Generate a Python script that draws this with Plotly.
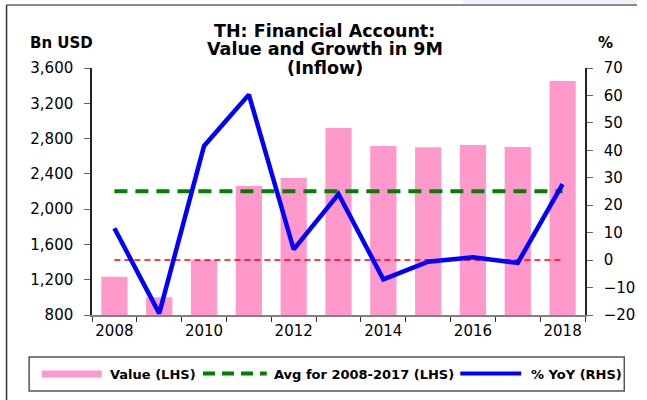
import plotly.graph_objects as go

years = [2008, 2009, 2010, 2011, 2012, 2013, 2014, 2015, 2016, 2017, 2018]
value_bn_usd = [1234, 1000, 1423, 2262, 2353, 2920, 2716, 2701, 2727, 2705, 3453]
yoy_pct = [11.6, -19.4, 41.6, 60.3, 3.9, 24.1, -7.0, -0.6, 1.0, -1.0, 27.7]
avg_years = [y for y in years if y <= 2017]
avg_value = sum(v for y, v in zip(years, value_bn_usd) if y <= 2017) / len(avg_years)
x_tick_labels = [2008, 2010, 2012, 2014, 2016, 2018]
title_lines = ["TH: Financial Account:", "Value and Growth in 9M", "(Inflow)"]
legend_labels = ["Value (LHS)", "Avg for 2008-2017 (LHS)", "% YoY (RHS)"]

W, H = 647, 400
L, R, T, B = 92, 594, 68, 315
FONT = "DejaVu Sans"
PINK = "#FF99CC"
GREEN = "#008000"
BLUE = "#0000FF"


def px(x):
    return (x - L) / (R - L)


def py(y):
    return (B - y) / (B - T)


fig = go.Figure()
fig.add_trace(go.Bar(x=years, y=value_bn_usd, marker=dict(color=PINK, line=dict(width=0)),
                     width=0.585, name=legend_labels[0], showlegend=False))
fig.add_trace(go.Scatter(x=[years[0], years[-1]], y=[avg_value, avg_value], mode="lines",
                         line=dict(color=GREEN, width=4, dash="13px,8px"), name=legend_labels[1],
                         showlegend=False))
fig.add_trace(go.Scatter(x=[years[0], years[-1]], y=[0, 0], yaxis="y2", mode="lines",
                         line=dict(color="#FF0000", width=1.5, dash="6px,4px"), showlegend=False,
                         hoverinfo="skip"))
fig.add_trace(go.Scatter(x=years, y=yoy_pct, yaxis="y2", mode="lines",
                         line=dict(color=BLUE, width=4.5), name=legend_labels[2], showlegend=False))

shapes = []
annotations = []
# outer frame
shapes.append(dict(type="rect", xref="paper", yref="paper", x0=px(470), x1=px(W), y0=py(0), y1=py(4.5),
                   line=dict(width=0), fillcolor="#eef1fa", layer="below"))
shapes.append(dict(type="line", xref="paper", yref="paper", x0=px(5), x1=px(W), y0=py(5), y1=py(5),
                   line=dict(color="#8a8a8a", width=2)))
shapes.append(dict(type="line", xref="paper", yref="paper", x0=px(5), x1=px(5), y0=py(5), y1=py(H),
                   line=dict(color="#333333", width=1.5)))
# legend box
shapes.append(dict(type="rect", xref="paper", yref="paper", x0=px(28), x1=px(634), y0=py(391), y1=py(357),
                   line=dict(color="#555555", width=1.5), fillcolor="white"))
shapes.append(dict(type="line", xref="paper", yref="paper", x0=px(41), x1=px(102), y0=py(374), y1=py(374),
                   line=dict(color=PINK, width=7)))
shapes.append(dict(type="line", xref="paper", yref="paper", x0=px(205), x1=px(270), y0=py(373.5), y1=py(373.5),
                   line=dict(color=GREEN, width=4, dash="12px,7px")))
shapes.append(dict(type="line", xref="paper", yref="paper", x0=px(467), x1=px(529), y0=py(373.5), y1=py(373.5),
                   line=dict(color=BLUE, width=4)))
for xl, txt in zip([108, 275, 537], legend_labels):
    annotations.append(dict(xref="paper", yref="paper", x=px(xl), y=py(374), text=f"<b>{txt}</b>",
                            showarrow=False, xanchor="left", yanchor="middle",
                            font=dict(family=FONT, size=13, color="black")))
# title
for yc, txt in zip([31, 49.5, 68], title_lines):
    annotations.append(dict(xref="paper", yref="paper", x=px(329), y=py(yc), text=f"<b>{txt}</b>",
                            showarrow=False, xanchor="center", yanchor="middle",
                            font=dict(family=FONT, size=17.5, color="black")))
annotations.append(dict(xref="paper", yref="paper", x=px(27), y=py(43), text="<b>Bn USD</b>",
                        showarrow=False, xanchor="left", yanchor="middle",
                        font=dict(family=FONT, size=15, color="black")))
annotations.append(dict(xref="paper", yref="paper", x=px(614.5), y=py(43), text="<b>%</b>",
                        showarrow=False, xanchor="center", yanchor="middle",
                        font=dict(family=FONT, size=15, color="black")))

tick_font = dict(family=FONT, size=15, color="black")
fig.update_layout(
    width=W, height=H,
    margin=dict(l=L, r=W - R, t=T, b=H - B, pad=0),
    paper_bgcolor="white", plot_bgcolor="white",
    showlegend=False,
    shapes=shapes, annotations=annotations,
    xaxis=dict(range=[years[0] - 0.5, years[-1] + 0.5], tickvals=x_tick_labels,
               ticktext=[str(v) for v in x_tick_labels], ticks="outside", ticklen=1,
               tickcolor="rgba(0,0,0,0)", showline=True, linecolor="#808080", linewidth=1.5,
               showgrid=False, zeroline=False, tickfont=tick_font,
               minor=dict(tickvals=[y - 0.5 for y in years] + [years[-1] + 0.5], ticks="outside",
                          ticklen=5, tickcolor="#333333", tickwidth=1, showgrid=False)),
    yaxis=dict(range=[800, 3600], dtick=400, tickformat=",", ticks="outside", ticklen=6,
               tickcolor="#666666", showline=True, linecolor="#222222", linewidth=1.5,
               showgrid=False, zeroline=False, tickfont=tick_font, ticklabelstandoff=8),
    yaxis2=dict(range=[-20, 70], dtick=10, overlaying="y", side="right", ticks="outside",
                ticklen=6, tickcolor="#666666", showline=True, linecolor="#222222", linewidth=1.5,
                showgrid=False, zeroline=False, tickfont=tick_font, ticklabelstandoff=8),
)

fig.write_html("out.html", config={"displayModeBar": False},
               post_script="document.body.style.margin='0';")
